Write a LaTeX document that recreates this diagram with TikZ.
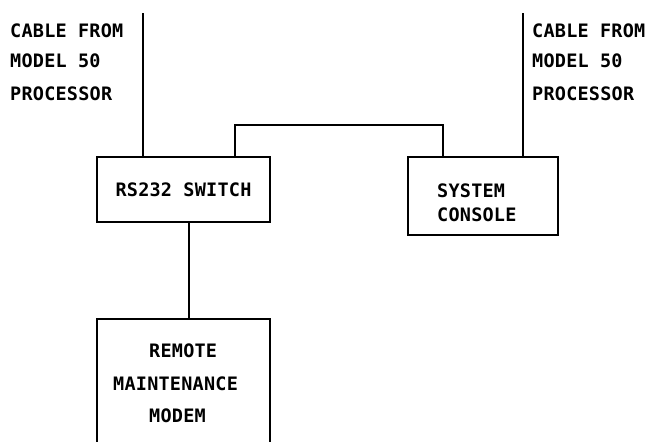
\documentclass[tikz,border=0pt]{standalone}
\usepackage{fontspec}
\newfontfamily\plotfont[LetterSpace=1.2]{DejaVu Sans Mono}
\begin{document}
\begin{tikzpicture}[x=1pt,y=-1pt,
  line/.style={line width=1.5pt},
  box/.style={draw,line width=1.5pt,rectangle,inner sep=0pt},
  txt/.style={anchor=base west,inner sep=0pt,font=\plotfont\bfseries\fontsize{18.5}{22}\selectfont}]
\clip (0,0) rectangle (657,442);
\fill[white] (0,0) rectangle (657,442);
% boxes
\node[box,minimum width=173pt,minimum height=65pt,font=\plotfont\bfseries\fontsize{18.5}{22}\selectfont] (rs) at (183.5,189.5) {RS232 SWITCH};
\node[box,minimum width=150pt,minimum height=78pt] (con) at (483,196) {};
\node[box,minimum width=173pt,minimum height=142pt] (mod) at (183.5,390) {};
% texts
\node[txt] (la) at (10,37) {CABLE FROM};
\node[txt] (lb) at (10,67) {MODEL 50};
\node[txt] (lc) at (10,100) {PROCESSOR};
\node[txt] (ra) at (532,37) {CABLE FROM};
\node[txt] (rb) at (532,67) {MODEL 50};
\node[txt] (rc) at (532,100) {PROCESSOR};
\node[txt] (ca) at (437,197) {SYSTEM};
\node[txt] (cb) at (437,221) {CONSOLE};
\node[txt] (ma) at (149,357) {REMOTE};
\node[txt] (mb) at (113,390) {MAINTENANCE};
\node[txt] (mc) at (149,422) {MODEM};
% connectors
\coordinate (cl) at (143,13);
\coordinate (cr) at (523,13);
\coordinate (ta) at (235,125);
\coordinate (tb) at (443,125);
\coordinate (dm) at (189,300);
\draw[line] (cl) -- (cl |- rs.north);
\draw[line] (cr) -- (cr |- con.north);
\draw[line] (ta |- rs.north) -- (ta) -- (tb) -- (tb |- con.north);
\draw[line] (dm |- rs.south) -- (dm |- mod.north);
\end{tikzpicture}
\end{document}
